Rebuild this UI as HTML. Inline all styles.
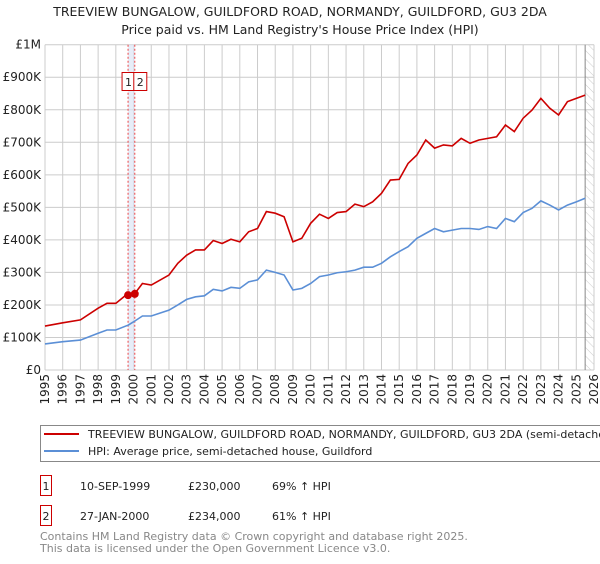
<!DOCTYPE html>
<html><head><meta charset="utf-8">
<style>
body{margin:0;background:#fff;width:600px;height:560px;overflow:hidden;font-family:"DejaVu Sans","Liberation Sans",sans-serif;}
svg text{font-family:"DejaVu Sans","Liberation Sans",sans-serif;}
</style></head>
<body>
<svg id="chart" width="600" height="560" viewBox="0 0 600 560" xmlns="http://www.w3.org/2000/svg">
<defs>
<pattern id="hatch" width="6" height="6" patternUnits="userSpaceOnUse" patternTransform="rotate(-45)">
<line x1="0" y1="0" x2="0" y2="6" stroke="#ccc" stroke-width="1"/>
</pattern>
</defs>
<text x="300" y="16" text-anchor="middle" font-size="12.5" fill="#222">TREEVIEW BUNGALOW, GUILDFORD ROAD, NORMANDY, GUILDFORD, GU3 2DA</text>
<text x="300" y="34" text-anchor="middle" font-size="12.5" fill="#222">Price paid vs. HM Land Registry's House Price Index (HPI)</text>
<g id="grid"></g>
<g id="marks"></g>
<g id="axes"></g>
<rect x="40.5" y="425.5" width="570" height="36" fill="#fff" stroke="#888"/>
<line x1="44" y1="434" x2="79" y2="434" stroke="#cc0000" stroke-width="2"/>
<text x="88" y="438" font-size="11" fill="#222">TREEVIEW BUNGALOW, GUILDFORD ROAD, NORMANDY, GUILDFORD, GU3 2DA (semi-detached house)</text>
<line x1="44" y1="451" x2="79" y2="451" stroke="#5b8fd6" stroke-width="2"/>
<text x="88" y="455" font-size="11" fill="#222">HPI: Average price, semi-detached house, Guildford</text>
<rect x="40.5" y="475.5" width="11" height="20" fill="#fff" stroke="#cc0000"/>
<text x="46" y="490" text-anchor="middle" font-size="11" fill="#222">1</text>
<text x="80" y="490" font-size="11" fill="#222">10-SEP-1999</text>
<text x="188" y="490" font-size="11" fill="#222">£230,000</text>
<text x="272" y="490" font-size="11" fill="#222">69% ↑ HPI</text>
<rect x="40.5" y="505.5" width="11" height="20" fill="#fff" stroke="#cc0000"/>
<text x="46" y="520" text-anchor="middle" font-size="11" fill="#222">2</text>
<text x="80" y="520" font-size="11" fill="#222">27-JAN-2000</text>
<text x="188" y="520" font-size="11" fill="#222">£234,000</text>
<text x="272" y="520" font-size="11" fill="#222">61% ↑ HPI</text>
<text x="40" y="540" font-size="11" fill="#888">Contains HM Land Registry data © Crown copyright and database right 2025.</text>
<text x="40" y="552" font-size="11" fill="#888">This data is licensed under the Open Government Licence v3.0.</text>
</svg>
<script>
const hpiYears=[1995,1996,1997,1998,1998.5,1999,1999.7,2000,2000.5,2001,2002,2002.5,2003,2003.5,2004,2004.5,2005,2005.5,2006,2006.5,2007,2007.5,2008,2008.5,2009,2009.5,2010,2010.5,2011,2011.5,2012,2012.5,2013,2013.5,2014,2014.5,2015,2015.5,2016,2016.5,2017,2017.5,2018,2018.5,2019,2019.5,2020,2020.5,2021,2021.5,2022,2022.5,2023,2023.5,2024,2024.5,2025,2025.5];
const hpiValues=[80,87,92,113,123,123,138,148,166,166,184,200,217,225,228,248,243,254,251,271,277,307,300,292,246,251,266,287,292,299,302,307,316,316,328,348,364,379,405,420,435,425,430,435,435,432,441,435,466,456,484,497,520,507,492,507,517,528];
const propValues=[135,145,154,190,205,205,236,230,266,261,292,328,353,369,369,398,389,402,394,425,435,487,482,471,394,405,451,479,466,484,487,510,502,517,543,584,586,635,661,707,682,692,689,712,697,707,712,717,753,733,774,799,835,805,784,825,835,845];
const saleYears=[1999.69,2000.07];
const salePrices=[230,234];
const saleLabels=["1","2"];
const yTicks=[0,100,200,300,400,500,600,700,800,900,1000];
const yTickLabels=["£0","£100K","£200K","£300K","£400K","£500K","£600K","£700K","£800K","£900K","£1M"];
const xTicks=[1995,1996,1997,1998,1999,2000,2001,2002,2003,2004,2005,2006,2007,2008,2009,2010,2011,2012,2013,2014,2015,2016,2017,2018,2019,2020,2021,2022,2023,2024,2025,2026];

const NS="http://www.w3.org/2000/svg";
const X0=45,X1=594,Y0=370,Y1=44.7;
const xs=y=>X0+(y-1995)/(2026-1995)*(X1-X0);
const ys=v=>Y0-v/1000*(Y0-Y1);
function mk(tag,attrs,parent){const e=document.createElementNS(NS,tag);for(const k in attrs)e.setAttribute(k,attrs[k]);parent.appendChild(e);return e;}
const grid=document.getElementById('grid'),marks=document.getElementById('marks'),axes=document.getElementById('axes');
yTicks.forEach((t,i)=>{
  const l=mk('line',{x1:X0,x2:X1,y1:ys(t),y2:ys(t),stroke:'#cccccc','stroke-width':1},grid);
  
  
  const tx=mk('text',{x:X0-4,y:ys(t)+4,'text-anchor':'end','font-size':12,fill:'#222'},axes);
  tx.textContent=yTickLabels[i];
  
  
});
xTicks.forEach(t=>{
  const l=mk('line',{x1:xs(t),x2:xs(t),y1:Y1,y2:Y0,stroke:'#cccccc','stroke-width':1},grid);
  
  
  const tx=mk('text',{x:0,y:0,'text-anchor':'end','font-size':12,fill:'#222',transform:`translate(${xs(t)+4},374) rotate(-90)`},axes);
  tx.textContent=t;
  
  
});
const hatch=mk('rect',{x:xs(2025.5),y:Y1,width:X1-xs(2025.5),height:Y0-Y1,fill:'url(#hatch)'},grid);


const hl=mk('line',{x1:xs(2025.5),x2:xs(2025.5),y1:Y1,y2:Y0,stroke:'#888','stroke-width':1},grid);


const band=mk('rect',{x:xs(saleYears[0]),y:Y1,width:xs(saleYears[1])-xs(saleYears[0]),height:Y0-Y1,fill:'#dde6f5',opacity:0.7},grid);


saleYears.forEach((s,i)=>{
  const l=mk('line',{x1:xs(s),x2:xs(s),y1:Y1,y2:Y0,stroke:'#ee4444','stroke-width':1,'stroke-dasharray':'2,2'},grid);
  
  
});
const hpiLine=mk('polyline',{points:hpiYears.map((y,i)=>xs(y)+','+ys(hpiValues[i])).join(' '),fill:'none',stroke:'#5b8fd6','stroke-width':1.6},marks);


const propLine=mk('polyline',{points:hpiYears.map((y,i)=>xs(y)+','+ys(propValues[i])).join(' '),fill:'none',stroke:'#cc0000','stroke-width':1.6},marks);


saleYears.forEach((s,i)=>{
  const c=mk('circle',{cx:xs(s),cy:ys(salePrices[i]),r:4,fill:'#cc0000'},marks);
  
  
});
[0,1].forEach(i=>{
  const bx=xs(saleYears[i])-(i===0?6:1);
  const r=mk('rect',{x:bx,y:72.5,width:i===0?12:13,height:18,fill:'#fff',stroke:'#cc0000'},marks);
  
  
  const t=mk('text',{x:bx+6.5,y:86,'text-anchor':'middle','font-size':11,fill:'#222'},marks);
  t.textContent=saleLabels[i];
  
  
});
</script>
</body></html>
